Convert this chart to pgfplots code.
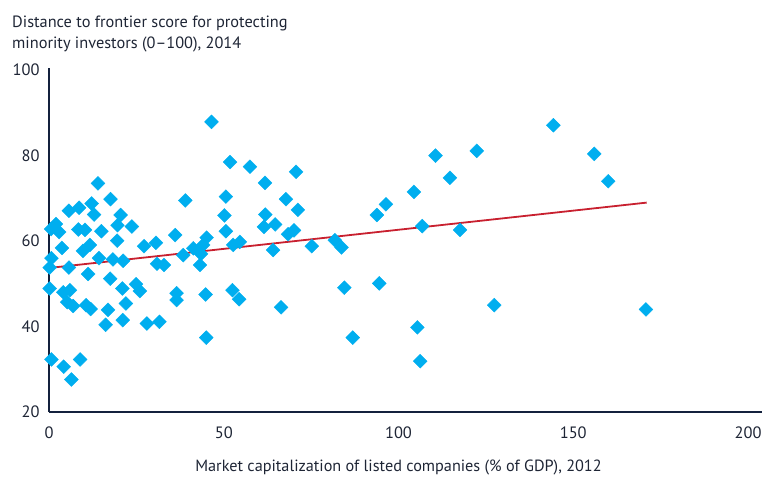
\documentclass[border=0pt]{standalone}
\usepackage{fontspec}
\setmainfont{PT Sans}
\usepackage{pgfplots}
\usepackage{pgfplotstable}
\pgfplotsset{compat=1.18}
\definecolor{dotblue}{HTML}{00AEEF}
\definecolor{trendred}{HTML}{C8202F}
\definecolor{axisnavy}{HTML}{14213D}
\definecolor{txt}{HTML}{1E2535}
\pgfplotstableread{
x y
14.0 73.5
17.6 69.8
5.7 67.1
8.6 67.8
12.2 68.8
12.9 66.2
20.5 66.1
23.7 63.4
0.6 62.8
2.0 64.0
2.9 62.1
8.4 62.7
10.3 62.6
15.0 62.3
19.6 63.7
19.5 60.1
3.7 58.4
11.7 59.1
9.7 57.7
0.7 56.0
0.2 53.8
5.7 53.8
14.3 56.0
18.3 55.7
21.2 55.4
11.2 52.3
17.5 51.2
0.2 48.9
4.1 48.0
6.0 48.5
5.2 45.7
6.9 44.8
10.6 45.0
11.9 44.1
16.9 43.9
16.2 40.4
21.1 41.5
22.0 45.4
21.0 48.9
24.9 49.9
26.0 48.3
0.7 32.3
4.2 30.6
8.9 32.3
6.4 27.6
27.2 58.8
30.6 59.6
30.9 54.7
32.9 54.4
28.0 40.7
31.6 41.1
39.0 69.5
36.1 61.4
46.5 87.9
51.8 78.5
57.5 77.4
70.7 76.2
61.8 73.6
50.6 70.4
67.8 69.8
71.2 67.3
50.2 66.0
61.9 66.2
61.5 63.3
64.7 63.9
50.6 62.3
68.4 61.6
70.1 62.5
45.1 60.8
41.3 58.3
38.4 56.7
43.5 57.0
43.2 54.4
44.1 59.1
52.7 59.1
54.6 59.8
64.1 57.9
75.2 58.8
81.8 60.2
83.7 58.5
36.5 47.8
36.5 46.2
44.8 47.5
52.5 48.5
54.4 46.4
84.5 49.1
94.5 50.1
66.4 44.5
45.0 37.4
86.9 37.4
93.8 66.1
96.4 68.6
104.4 71.5
110.6 80.0
114.7 74.8
122.4 81.1
106.8 63.5
117.6 62.6
127.4 45.0
105.4 39.8
106.2 31.9
144.3 87.1
156.0 80.4
160.0 74.0
170.8 44.0
}\scatterdata
\begin{document}
\begin{tikzpicture}
\path[use as bounding box] (0,0) rectangle (763bp,477bp);
\begin{axis}[
  at={(49bp,65bp)}, anchor=south west,
  scale only axis, width=713bp, height=344bp,
  xmin=0, xmax=204, ymin=20, ymax=100.5,
  axis x line*=bottom, axis y line*=left,
  x axis line style={-, line width=1.8bp, color=axisnavy},
  y axis line style={-, line width=1.2bp, color=axisnavy},
  axis on top,
  clip=false,
  xtick={0,50,100,150,200}, ytick={20,40,60,80,100},
  major tick length=0pt,
  tick label style={font=\fontsize{16.5}{19}\selectfont, text=txt},
  /pgf/number format/assume math mode=true,
  xticklabel style={yshift=-11bp},
  yticklabel style={xshift=-6bp},
  xlabel={Market capitalization of listed companies (\% of GDP), 2012},
  xlabel style={at={(axis description cs:0.4902,0)}, anchor=north, yshift=-44bp, font=\fontsize{16.3}{19}\selectfont, text=txt},
]
\addplot[dotblue, only marks, mark=square*, mark size=4.9bp, mark options={rotate=45, fill=dotblue, draw=dotblue, line width=0.4bp}] table[x=x,y=y] {\scatterdata};
\addplot[trendred, line width=1.8bp, no marks] coordinates {(0,53.7) (171,69.0)};
\end{axis}
\node[anchor=base west, text=txt, font=\fontsize{16.4}{20}\selectfont, inner sep=0pt] at (12bp,449bp) {Distance to frontier score for protecting};
\node[anchor=base west, text=txt, font=\fontsize{16.4}{20}\selectfont, inner sep=0pt] at (12bp,428bp) {minority investors (0--100), 2014};
\end{tikzpicture}
\end{document}
